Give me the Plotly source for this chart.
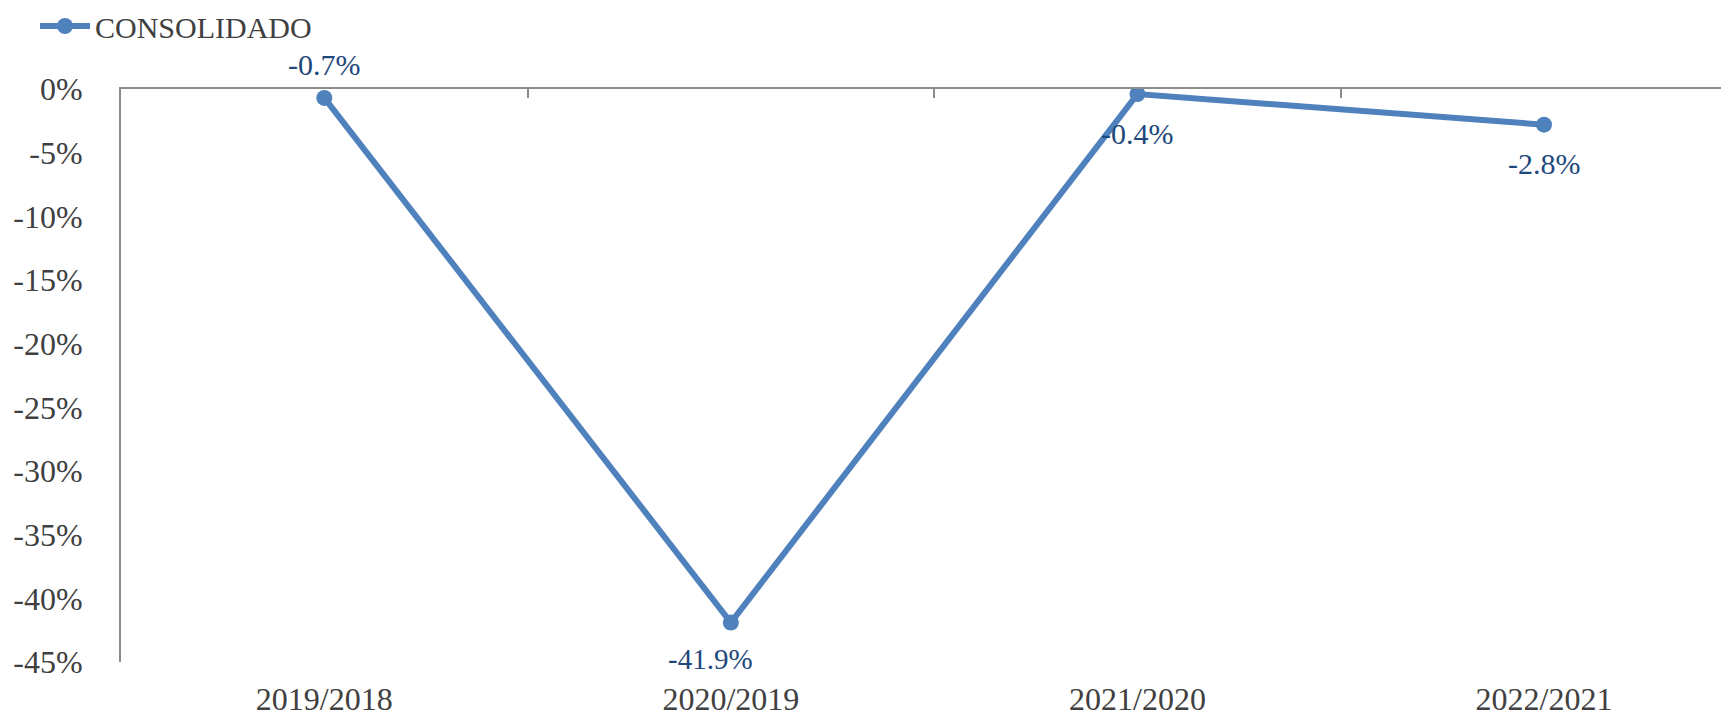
import plotly.graph_objects as go

categories = ["2019/2018", "2020/2019", "2021/2020", "2022/2021"]
consolidado = [-0.7, -41.9, -0.4, -2.8]
value_labels = ["-0.7%", "-41.9%", "-0.4%", "-2.8%"]
y_tickvals = [0, -5, -10, -15, -20, -25, -30, -35, -40, -45]
y_ticktext = ["0%", "-5%", "-10%", "-15%", "-20%", "-25%", "-30%", "-35%", "-40%", "-45%"]

LINE_COLOR = "#4F81BD"
LABEL_COLOR = "#1F497D"
AXIS_COLOR = "#8C8C8C"
TICK_COLOR = "#404040"
FONT = "Liberation Serif, Times New Roman, serif"

fig = go.Figure()
fig.add_trace(go.Scatter(
    x=categories, y=consolidado, name="CONSOLIDADO",
    mode="lines+markers",
    line=dict(color=LINE_COLOR, width=6),
    marker=dict(color=LINE_COLOR, size=16),
    hoverinfo="skip",
))
# helper trace for the top (zero) axis line with boundary ticks
fig.add_trace(go.Scatter(
    x=categories, y=consolidado, xaxis="x2", mode="lines",
    line=dict(width=0), showlegend=False, hoverinfo="skip", opacity=0,
))

annotations = []
for i, (c, v, t) in enumerate(zip(categories, consolidado, value_labels)):
    above = i == 0
    annotations.append(dict(
        x=c, y=v, xref="x", yref="y", text=t, showarrow=False,
        yshift=33 if above else (-36 if i == 1 else -39),
        xshift=-20 if i == 1 else 0,
        font=dict(family=FONT, size=30 if i != 1 else 29, color=LABEL_COLOR),
    ))

xr = [-0.5, 3.455]
W, H = 1721, 710
fig.update_layout(
    width=W, height=H,
    margin=dict(l=113, r=0, t=81, b=56, autoexpand=False),
    paper_bgcolor="white", plot_bgcolor="white",
    font=dict(family=FONT, size=30, color=TICK_COLOR),
    showlegend=True,
    legend=dict(
        xref="container", yref="container", x=27 / W, y=1 - 18 / H,
        xanchor="left", yanchor="middle",
        font=dict(family=FONT, size=30, color="#404040"),
        bgcolor="rgba(0,0,0,0)", itemwidth=50,
    ),
    xaxis=dict(
        type="category", categoryorder="array", categoryarray=categories,
        range=xr, showline=False, showgrid=False, zeroline=False,
        ticks="", ticklabelstandoff=15, automargin=False,
        tickfont=dict(family=FONT, size=32, color=TICK_COLOR),
    ),
    xaxis2=dict(
        type="category", categoryorder="array", categoryarray=categories,
        range=xr, overlaying="x", side="top", anchor="y",
        showline=True, linecolor=AXIS_COLOR, linewidth=2,
        ticks="inside", ticklen=9, tickcolor=AXIS_COLOR, tickwidth=1.5,
        tickson="boundaries", showticklabels=False, showgrid=False, zeroline=False,
        automargin=False,
    ),
    yaxis=dict(
        range=[-45, 0], tickvals=y_tickvals, ticktext=y_ticktext,
        showline=True, linecolor=AXIS_COLOR, linewidth=2,
        showgrid=False, zeroline=False, ticks="", ticklabelstandoff=30,
        automargin=False,
        tickfont=dict(family=FONT, size=32, color=TICK_COLOR),
    ),
    annotations=annotations,
)

fig.write_html("out.html")
